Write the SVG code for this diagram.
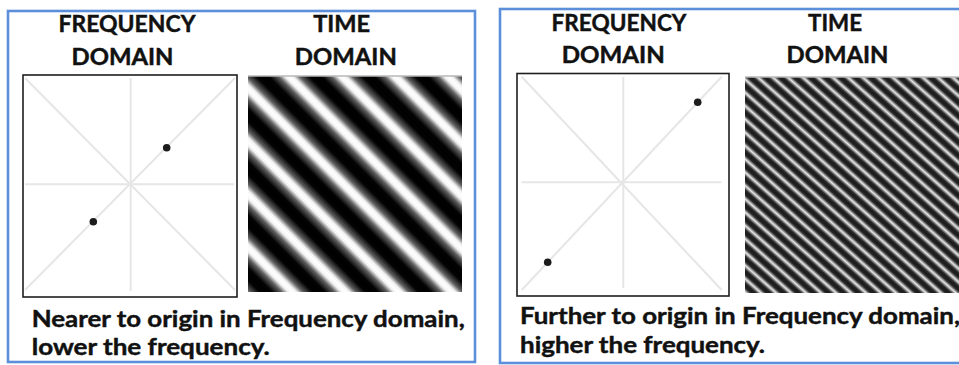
<svg xmlns="http://www.w3.org/2000/svg" width="959" height="365" viewBox="0 0 959 365">
  <style>
    .frame { fill: none; stroke: #5b8fd9; stroke-width: 2.6; }
    .plot { fill: #ffffff; stroke: #1e1e1e; stroke-width: 1.6; }
    .axis { stroke: #e6e6e6; stroke-width: 2; fill: none; }
    .dot { fill: #1c1c1c; }
    .edge { stroke: #b8b8b8; stroke-width: 1.5; }
    .head, .note { font-family: Lato, "Liberation Sans", sans-serif; font-weight: bold; font-size: 23px; fill: #111; stroke: #111; stroke-width: 0.45; }
    .head { text-anchor: middle; }
  </style>
  <defs>
    <!-- low-frequency grating: stripes at 45 degrees, ~53px horizontal spacing -->
    <linearGradient id="waveLow" gradientUnits="userSpaceOnUse" x1="262" y1="76" x2="288.5" y2="49.5" spreadMethod="repeat">
      <stop offset="0" stop-color="#000"/>
      <stop offset="0.12" stop-color="#030303"/>
      <stop offset="0.3" stop-color="#606060"/>
      <stop offset="0.42" stop-color="#f2f2f2"/>
      <stop offset="0.5" stop-color="#fff"/>
      <stop offset="0.58" stop-color="#f2f2f2"/>
      <stop offset="0.7" stop-color="#606060"/>
      <stop offset="0.88" stop-color="#030303"/>
      <stop offset="1" stop-color="#000"/>
    </linearGradient>
    <!-- high-frequency grating: ~10px period -->
    <linearGradient id="waveHigh" gradientUnits="userSpaceOnUse" x1="750" y1="77" x2="756.6" y2="69.56" spreadMethod="repeat">
      <stop offset="0" stop-color="#1a1a1a"/>
      <stop offset="0.2" stop-color="#2a2a2a"/>
      <stop offset="0.5" stop-color="#e8e8e8"/>
      <stop offset="0.8" stop-color="#2a2a2a"/>
      <stop offset="1" stop-color="#1a1a1a"/>
    </linearGradient>
  </defs>

  <!-- Panel 1: low frequency -->
  <g id="panel-near">
    <rect class="frame" x="8" y="11" width="467" height="351"/>
    <text class="head" x="127" y="31.5" textLength="137" lengthAdjust="spacingAndGlyphs">FREQUENCY</text>
    <text class="head" x="122.5" y="65" textLength="102" lengthAdjust="spacingAndGlyphs">DOMAIN</text>
    <text class="head" x="341.7" y="31.5" textLength="57" lengthAdjust="spacingAndGlyphs">TIME</text>
    <text class="head" x="345.8" y="65" textLength="102" lengthAdjust="spacingAndGlyphs">DOMAIN</text>

    <g id="freq-near">
      <rect class="plot" x="23" y="75" width="214" height="222"/>
      <line class="axis" x1="130.7" y1="78" x2="130.7" y2="291"/>
      <line class="axis" x1="25" y1="184.3" x2="234" y2="184.3"/>
      <line class="axis" x1="25" y1="78" x2="235" y2="290"/>
      <line class="axis" x1="235" y1="78" x2="25" y2="290"/>
      <circle class="dot" cx="166.7" cy="147.7" r="3.8"/>
      <circle class="dot" cx="93.3" cy="221.7" r="3.8"/>
    </g>

    <g id="time-near">
      <rect x="248" y="76" width="214" height="216" fill="url(#waveLow)"/>
      <line class="edge" x1="248" y1="76" x2="462" y2="76"/>
    </g>

    <text class="note" x="31.7" y="326.5" textLength="433" lengthAdjust="spacingAndGlyphs">Nearer to origin in Frequency domain,</text>
    <text class="note" x="31.7" y="355" textLength="238" lengthAdjust="spacingAndGlyphs">lower the frequency.</text>
  </g>

  <!-- Panel 2: high frequency -->
  <g id="panel-far">
    <rect class="frame" x="500" y="9" width="480" height="354"/>
    <text class="head" x="619" y="31" textLength="135" lengthAdjust="spacingAndGlyphs">FREQUENCY</text>
    <text class="head" x="613.3" y="63.3" textLength="103" lengthAdjust="spacingAndGlyphs">DOMAIN</text>
    <text class="head" x="835" y="31" textLength="54" lengthAdjust="spacingAndGlyphs">TIME</text>
    <text class="head" x="837.5" y="63.3" textLength="102" lengthAdjust="spacingAndGlyphs">DOMAIN</text>

    <g id="freq-far">
      <rect class="plot" x="517" y="73.5" width="212" height="222.5"/>
      <line class="axis" x1="623.3" y1="77" x2="623.3" y2="288"/>
      <line class="axis" x1="521.5" y1="182.3" x2="721.5" y2="182.3"/>
      <line class="axis" x1="521.7" y1="76.7" x2="721.7" y2="290"/>
      <line class="axis" x1="721.7" y1="76.7" x2="521.7" y2="290"/>
      <circle class="dot" cx="697.7" cy="102.3" r="3.8"/>
      <circle class="dot" cx="547.7" cy="262.3" r="3.8"/>
    </g>

    <g id="time-far">
      <rect x="745" y="77" width="216" height="216" fill="url(#waveHigh)"/>
      <line class="edge" x1="745" y1="77" x2="961" y2="77"/>
    </g>

    <text class="note" x="520" y="323.5" textLength="440" lengthAdjust="spacingAndGlyphs">Further to origin in Frequency domain,</text>
    <text class="note" x="520" y="353.3" textLength="245" lengthAdjust="spacingAndGlyphs">higher the frequency.</text>
  </g>
</svg>
